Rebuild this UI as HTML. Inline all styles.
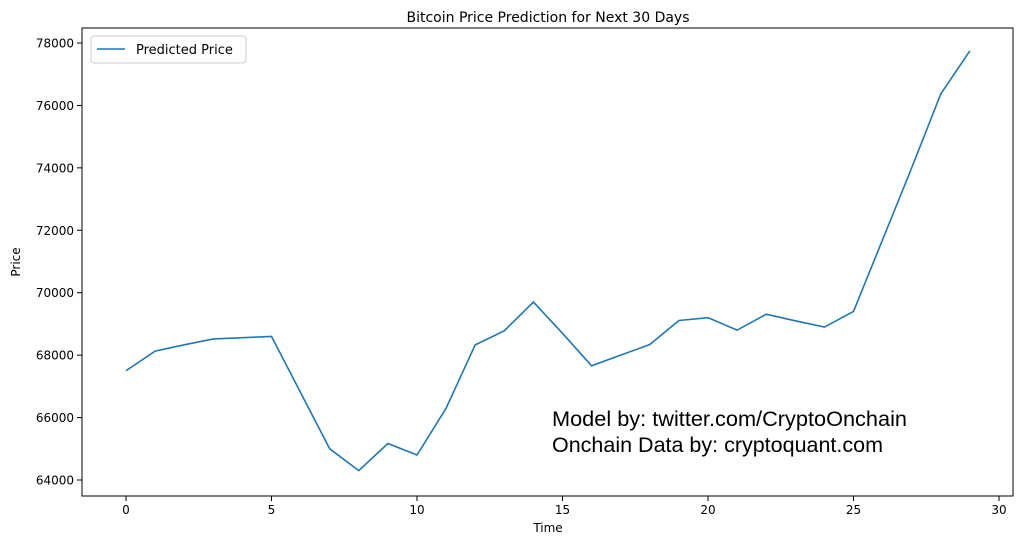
<!DOCTYPE html>
<html><head><meta charset="utf-8"><style>
body{margin:0;background:#fff;font-family:"Liberation Sans","DejaVu Sans",sans-serif;}
</style></head><body>
<svg id="chart" width="1023" height="545" xmlns="http://www.w3.org/2000/svg" font-family="DejaVu Sans, Liberation Sans, sans-serif">
<rect width="1023" height="545" fill="#fff"/>
<text x="548" y="22" text-anchor="middle" font-size="14">Bitcoin Price Prediction for Next 30 Days</text>
<rect x="82" y="28" width="931" height="468" fill="none" stroke="#000" stroke-width="1"/>
<g id="xticks"></g><g id="yticks"></g>
<path id="line" fill="none" stroke="#1f77b4" stroke-width="1.6"/>
<text x="548" y="532" text-anchor="middle" font-size="12">Time</text>
<text transform="translate(20,262) rotate(-90)" text-anchor="middle" font-size="12">Price</text>
<g>
<rect x="91" y="36" width="155" height="27" rx="3" fill="#fff" stroke="#ccc"/>
<line x1="97" y1="49" x2="125" y2="49" stroke="#1f77b4" stroke-width="1.6"/>
<text x="136" y="54" font-size="13">Predicted Price</text>
</g>
<g font-family="Liberation Sans, sans-serif" font-size="21">
<text x="552" y="426" textLength="355" lengthAdjust="spacingAndGlyphs">Model by: twitter.com/CryptoOnchain</text>
<text x="552" y="452" textLength="331" lengthAdjust="spacingAndGlyphs">Onchain Data by: cryptoquant.com</text>
</g>
</svg>
<script>
const days=[0,1,2,3,4,5,6,7,8,9,10,11,12,13,14,15,16,17,18,19,20,21,22,23,24,25,26,27,28,29];
const prices=[67500,68130,68330,68520,68560,68600,66800,65000,64300,65170,64800,66300,68330,68780,69700,68700,67660,68000,68340,69110,69200,68800,69310,69100,68900,69400,71700,74000,76370,77750];
const xTicks=[0,5,10,15,20,25,30];
const yTicks=[64000,66000,68000,70000,72000,74000,76000,78000];
const X=v=>126+(v/30)*873;
const Y=v=>480-(v-64000)/14000*437;
const ns="http://www.w3.org/2000/svg";
const xt=document.getElementById('xticks'),yt=document.getElementById('yticks');
xTicks.forEach(t=>{
 const l=document.createElementNS(ns,'line');
 l.setAttribute('x1',X(t));l.setAttribute('x2',X(t));l.setAttribute('y1',496);l.setAttribute('y2',501);l.setAttribute('stroke','#000');
 
 
 xt.appendChild(l);
 const s=document.createElementNS(ns,'text');
 s.setAttribute('x',X(t));s.setAttribute('y',514);s.setAttribute('text-anchor','middle');s.setAttribute('font-size','12');s.textContent=t;
 
 
 xt.appendChild(s);
});
yTicks.forEach(t=>{
 const l=document.createElementNS(ns,'line');
 l.setAttribute('x1',77);l.setAttribute('x2',82);l.setAttribute('y1',Y(t));l.setAttribute('y2',Y(t));l.setAttribute('stroke','#000');
 
 
 yt.appendChild(l);
 const s=document.createElementNS(ns,'text');
 s.setAttribute('x',74);s.setAttribute('y',Y(t)+4.5);s.setAttribute('text-anchor','end');s.setAttribute('font-size','12');s.textContent=t;
 
 
 yt.appendChild(s);
});
document.getElementById('line').setAttribute('d',days.map((d,i)=>(i?'L':'M')+X(d)+','+Y(prices[i])).join(' '));
</script>
</body></html>
